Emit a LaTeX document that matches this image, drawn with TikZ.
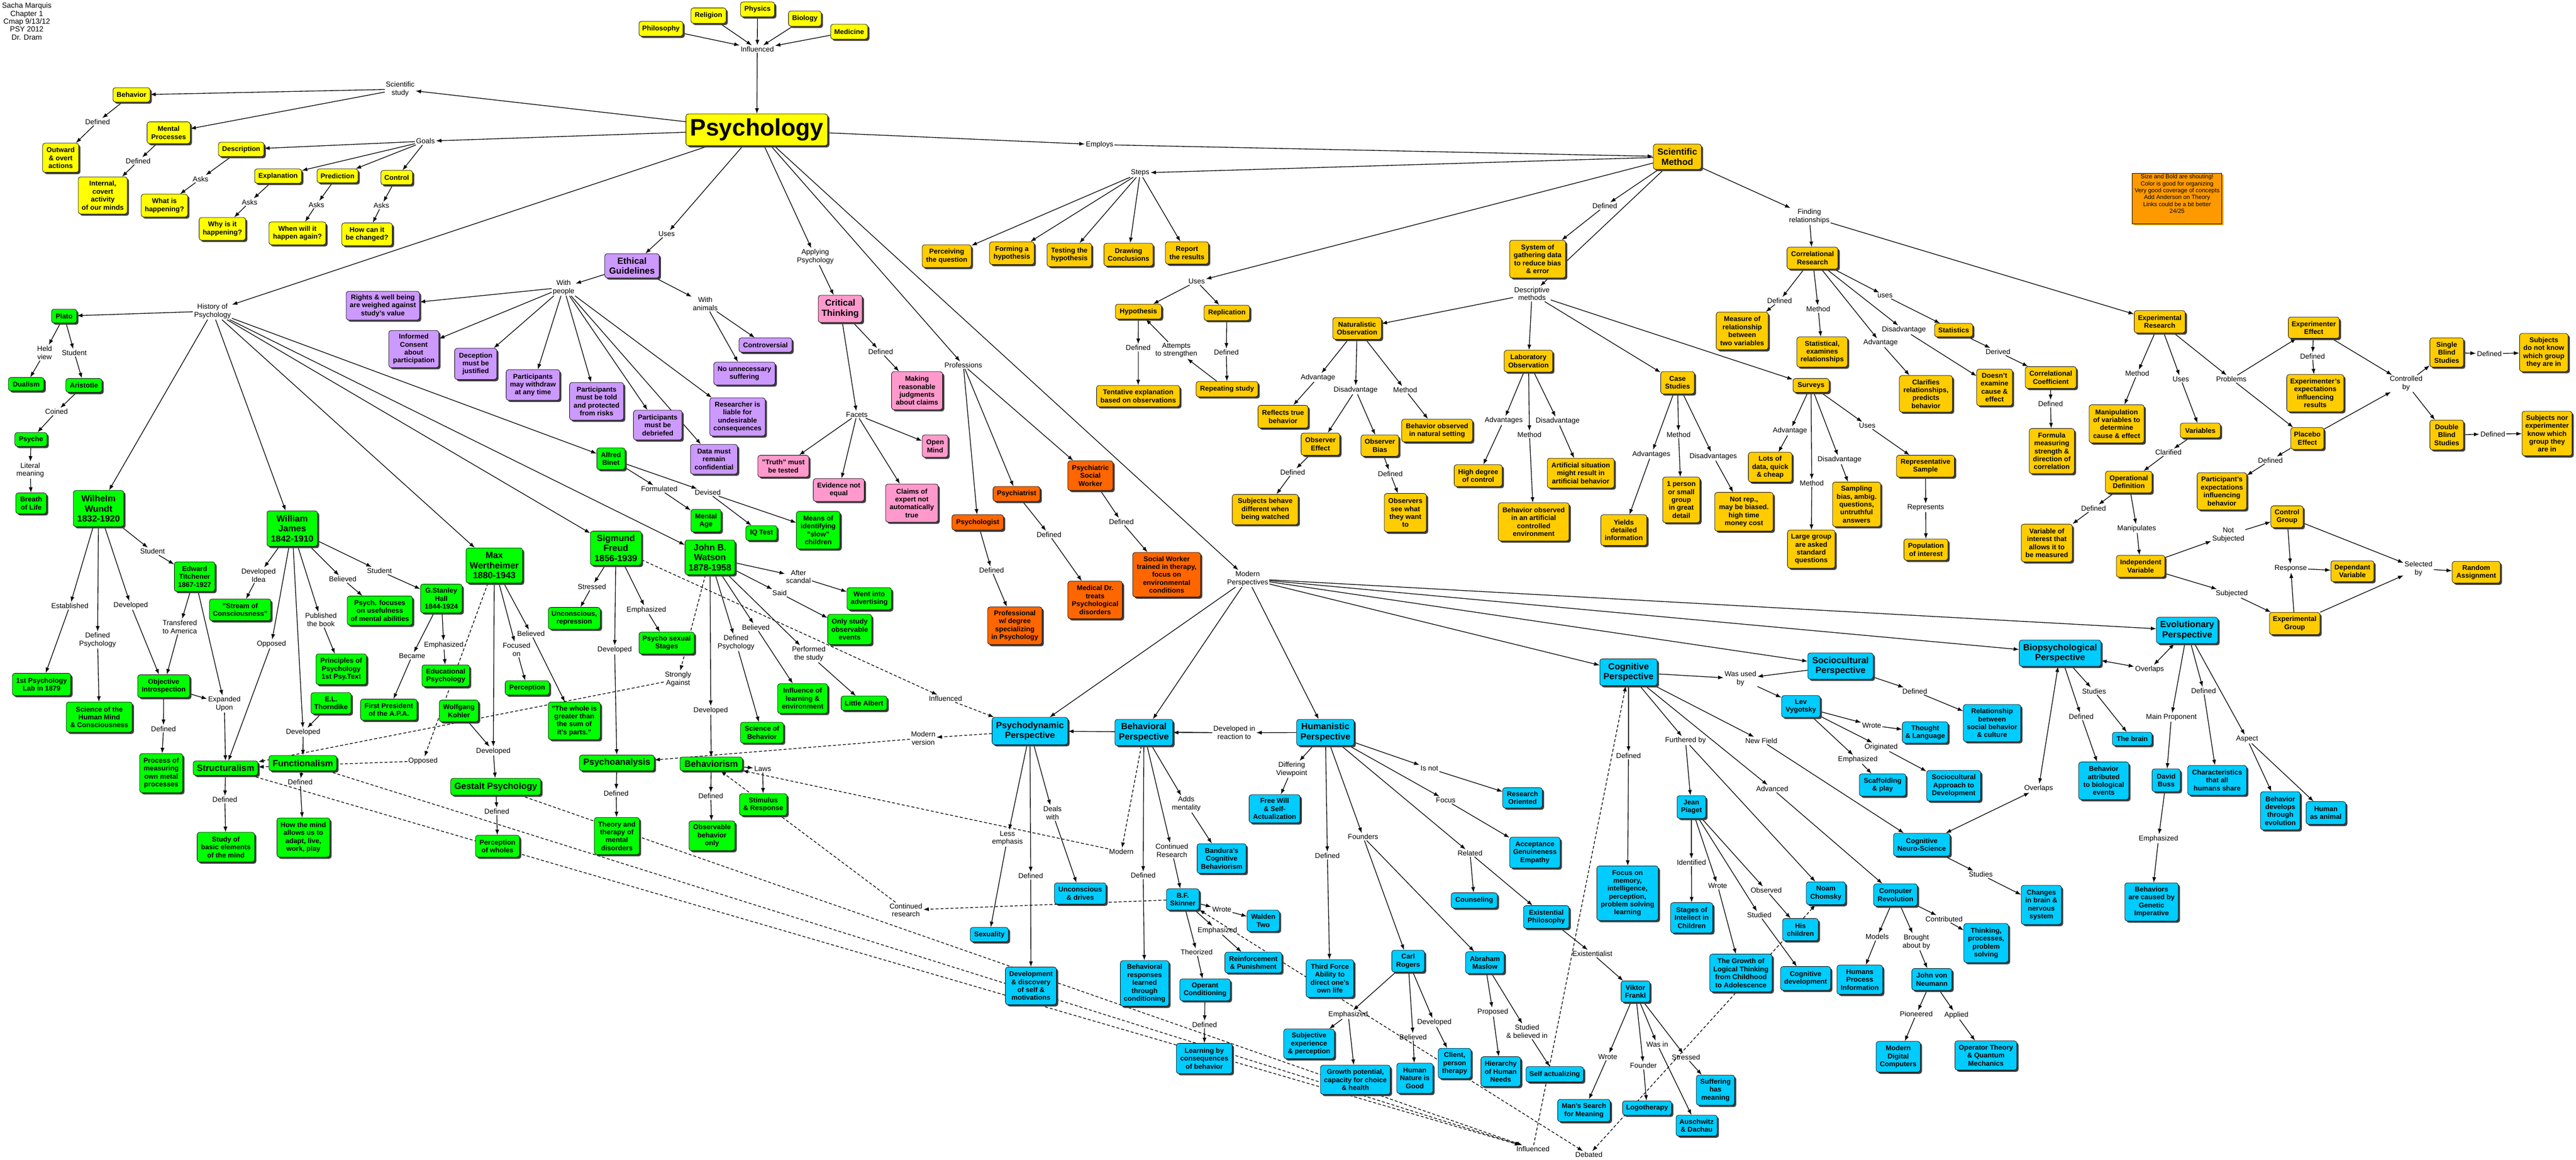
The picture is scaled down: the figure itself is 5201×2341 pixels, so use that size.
\documentclass[tikz,border=0pt]{standalone}
\usepackage{fontspec}
\setmainfont{Liberation Sans}
\usetikzlibrary{arrows.meta,shadows,backgrounds}
\definecolor{cY}{HTML}{FFFF00}
\definecolor{cG}{HTML}{FFCC00}
\definecolor{cGr}{HTML}{00FF00}
\definecolor{cPu}{HTML}{CC99FF}
\definecolor{cPk}{HTML}{FF99CC}
\definecolor{cOr}{HTML}{FF6600}
\definecolor{cBl}{HTML}{00CCFF}
\definecolor{cNote}{HTML}{FF9900}
\tikzset{
  cpt/.style={draw=black, line width=0.8pt, rounded corners=5pt, align=center, inner sep=1pt,
    font=\fontsize{14}{16}\selectfont\bfseries,
    drop shadow={shadow xshift=3.5pt, shadow yshift=-3.5pt, fill=black!75, opacity=1}},
  bigt/.style={font=\fontsize{18}{20.5}\selectfont\bfseries},
  sY/.style={cpt, fill=cY},
  sG/.style={cpt, fill=cG},
  sGr/.style={cpt, fill=cGr},
  sPu/.style={cpt, fill=cPu},
  sPk/.style={cpt, fill=cPk},
  sOr/.style={cpt, fill=cOr},
  sBl/.style={cpt, fill=cBl},
  lbl/.style={align=center, inner sep=2pt, font=\fontsize{14.5}{16.5}\selectfont},
  ar/.style={line width=1.4pt, -{Latex[length=11pt,width=8pt]}},
  dar/.style={ar, dash pattern=on 6pt off 4pt},
  bar/.style={line width=1.4pt, {Latex[length=11pt,width=8pt]}-{Latex[length=11pt,width=8pt]}},
  dbar/.style={bar, dash pattern=on 6pt off 4pt},
}
\newcommand\cn[7]{\node[#6, minimum width={#4-#2}, minimum height={#5-#3}] (#1) at ({(#2+#4)/2},{(#3+#5)/2}) {#7};}
\newcommand\lb[4]{\node[lbl] (#1) at (#2,#3) {#4};}
\begin{document}
\begin{tikzpicture}[x=1pt,y=-1pt]
\useasboundingbox (0,0) rectangle (5201,2341);
% header and note
\node[align=center, inner sep=0pt, font=\fontsize{15}{16}\selectfont] (hdr) at (54,43) {Sacha Marquis\\Chapter 1\\Cmap 9/13/12\\PSY 2012\\Dr. Dram};
\node[draw=black, line width=0.6pt, fill=cNote, minimum width=181, minimum height=102, inner sep=0pt,
  drop shadow={shadow xshift=3pt, shadow yshift=-3pt, fill=cNote!80!yellow, opacity=1}] (cmtbox) at (4395.5,401) {};
\node[align=center, anchor=north, inner sep=0pt, font=\fontsize{12}{13.8}\selectfont] (cmttxt) at (4395.5,352) {Size and Bold are shouting!\\Color is good for organizing\\Very good coverage of concepts\\Add Anderson on Theory\\Links could be a bit better\\24/25};
% ---------- yellow ----------
\cn{philo}{1290}{43}{1379}{73}{sY}{Philosophy}
\cn{religion}{1395}{16}{1466}{47}{sY}{Religion}
\cn{physics}{1495}{4}{1564}{34}{sY}{Physics}
\cn{biology}{1592}{22}{1658}{53}{sY}{Biology}
\cn{medicine}{1677}{49}{1752}{79}{sY}{Medicine}
\lb{infl}{1529}{99}{Influenced}
\cn{psych}{1385}{230}{1671}{294}{sY,font=\fontsize{48}{50}\selectfont\bfseries}{Psychology}
\lb{scistudy}{808}{180}{Scientific\\study}
\cn{behavior}{228}{177}{303}{206}{sY}{Behavior}
\cn{mental}{297}{246}{384}{290}{sY}{Mental\\Processes}
\lb{defB}{197}{246}{Defined}
\cn{outward}{86}{289}{159}{348}{sY}{Outward\\\& overt\\actions}
\lb{defM}{279}{325}{Defined}
\cn{internal}{158}{357}{257}{432}{sY}{Internal,\\covert\\activity\\of our minds}
\lb{goals}{859}{285}{Goals}
\cn{desc}{441}{287}{533}{316}{sY}{Description}
\cn{expl}{514}{341}{609}{370}{sY}{Explanation}
\cn{pred}{640}{341}{723}{369}{sY}{Prediction}
\cn{ctrlY}{769}{344}{833}{373}{sY}{Control}
\lb{asksD}{405}{361}{Asks}
\lb{asksE}{504}{408}{Asks}
\lb{asksP}{639}{413}{Asks}
\lb{asksC}{770}{415}{Asks}
\cn{whatq}{285}{392}{379}{438}{sY}{What is\\happening?}
\cn{whyq}{402}{439}{496}{485}{sY}{Why is it\\happening?}
\cn{whenq}{543}{448}{658}{494}{sY}{When will it\\happen again?}
\cn{howq}{690}{450}{792}{496}{sY}{How can it\\be changed?}
% ---------- gold: scientific method ----------
\lb{employs}{2220}{292}{Employs}
\cn{sm}{3338}{291}{3435}{342}{sG,bigt}{Scientific\\Method}
\lb{steps}{2302}{349}{Steps}
\cn{perc}{1862}{494}{1961}{540}{sG}{Perceiving\\the question}
\cn{formh}{1998}{488}{2088}{534}{sG}{Forming a\\hypothesis}
\cn{testh}{2114}{491}{2204}{538}{sG}{Testing the\\hypothesis}
\cn{drawc}{2229}{491}{2328}{537}{sG}{Drawing\\Conclusions}
\cn{report}{2353}{488}{2440}{533}{sG}{Report\\the results}
\lb{usesSM}{2416}{568}{Uses}
\cn{hyp}{2252}{614}{2345}{644}{sG}{Hypothesis}
\cn{rep}{2431}{616}{2523}{647}{sG}{Replication}
\lb{defH}{2298}{702}{Defined}
\lb{attempts}{2375}{707}{Attempts\\to strengthen}
\lb{defR}{2476}{711}{Defined}
\cn{tent}{2214}{778}{2382}{821}{sG}{Tentative explanation\\based on observations}
\cn{repst}{2415}{770}{2540}{801}{sG}{Repeating study}
\lb{defSM}{3240}{416}{Defined}
\cn{system}{3048}{485}{3161}{561}{sG}{System of\\gathering data\\to reduce bias\\\& error}
\lb{descm}{3093}{593}{Descriptive\\methods}
\cn{nat}{2691}{641}{2789}{685}{sG}{Naturalistic\\Observation}
\cn{labobs}{3037}{707}{3135}{751}{sG}{Laboratory\\Observation}
\cn{casest}{3353}{750}{3421}{795}{sG}{Case\\Studies}
\cn{surv}{3620}{764}{3693}{792}{sG}{Surveys}
\lb{advN}{2661}{762}{Advantage}
\lb{disN}{2737}{787}{Disadvantage}
\lb{metN}{2837}{787}{Method}
\cn{reflects}{2540}{818}{2641}{864}{sG}{Reflects true\\behavior}
\cn{obsE}{2627}{874}{2705}{919}{sG}{Observer\\Effect}
\cn{obsB}{2748}{878}{2824}{921}{sG}{Observer\\Bias}
\cn{natset}{2830}{846}{2973}{892}{sG}{Behavior observed\\in natural setting}
\lb{defOE}{2610}{953}{Defined}
\cn{subjb}{2488}{998}{2621}{1059}{sG}{Subjects behave\\different when\\being watched}
\lb{defOB}{2807}{956}{Defined}
\cn{obssee}{2795}{996}{2880}{1074}{sG}{Observers\\see what\\they want\\to}
\lb{advL}{3036}{849}{Advantages}
\lb{disL}{3145}{850}{Disadvantage}
\lb{metL}{3088}{877}{Method}
\cn{highdeg}{2936}{938}{3033}{982}{sG}{High degree\\of control}
\cn{artif}{3124}{925}{3259}{985}{sG}{Artificial situation\\might result in\\artificial behavior}
\cn{artenv}{3025}{1015}{3168}{1092}{sG}{Behavior observed\\in an artificial\\controlled\\environment}
\lb{advC}{3334}{917}{Advantages}
\lb{metC}{3389}{877}{Method}
\lb{disC}{3459}{921}{Disadvantages}
\cn{oneperson}{3357}{963}{3432}{1055}{sG}{1 person\\or small\\group\\in great\\detail}
\cn{yields}{3232}{1039}{3325}{1101}{sG}{Yields\\detailed\\information}
\cn{notrep}{3462}{994}{3580}{1072}{sG}{Not rep.,\\may be biased.\\high time\\money cost}
\lb{advS}{3614}{870}{Advantage}
\lb{usesS}{3770}{859}{Uses}
\lb{disS}{3714}{928}{Disadvantage}
\lb{metS}{3658}{975}{Method}
\cn{lots}{3530}{913}{3618}{973}{sG}{Lots of\\data, quick\\\& cheap}
\cn{sampling}{3700}{973}{3797}{1063}{sG}{Sampling\\bias, ambig.\\questions,\\untruthful\\answers}
\cn{large}{3609}{1070}{3705}{1147}{sG}{Large group\\are asked\\standard\\questions}
\cn{repsamp}{3829}{919}{3946}{963}{sG}{Representative\\Sample}
\lb{represents}{3888}{1025}{Represents}
\cn{pop}{3844}{1088}{3933}{1131}{sG}{Population\\of interest}
\lb{findrel}{3653}{437}{Finding\\relationships}
\cn{corr}{3608}{499}{3711}{543}{sG}{Correlational\\Research}
\lb{usesCorr}{3806}{597}{uses}
\lb{defCorr}{3593}{607}{Defined}
\lb{metCorr}{3671}{624}{Method}
\cn{measure}{3465}{630}{3570}{706}{sG}{Measure of\\relationship\\between\\two variables}
\cn{statist}{3628}{680}{3730}{741}{sG}{Statistical,\\examines\\relationships}
\lb{advCorr}{3797}{692}{Advantage}
\lb{disCorr}{3844}{666}{Disadvantage}
\cn{clarif}{3835}{758}{3942}{832}{sG}{Clarifies\\relationships,\\predicts\\behavior}
\cn{stats}{3906}{653}{3983}{680}{sG}{Statistics}
\lb{derived}{4034}{710}{Derived}
\cn{doesnt}{3991}{745}{4063}{819}{sG}{Doesn't\\examine\\cause \&\\effect}
\cn{corrco}{4089}{740}{4192}{784}{sG}{Correlational\\Coefficient}
\lb{defCC}{4140}{815}{Defined}
\cn{formula}{4097}{865}{4188}{956}{sG}{Formula\\measuring\\strength \&\\direction of\\correlation}
\cn{exper}{4309}{627}{4412}{672}{sG}{Experimental\\Research}
\lb{metE}{4315}{754}{Method}
\lb{usesE}{4403}{765}{Uses}
\lb{problems}{4505}{765}{Problems}
\cn{manip}{4218}{817}{4329}{894}{sG}{Manipulation\\of variables to\\determine\\cause \& effect}
\cn{vars}{4402}{854}{4483}{884}{sG}{Variables}
\lb{clarified}{4378}{913}{Clarified}
\cn{opdef}{4251}{951}{4345}{995}{sG}{Operational\\Definition}
\lb{defOD}{4227}{1026}{Defined}
\lb{manipulates}{4314}{1067}{Manipulates}
\cn{varint}{4081}{1058}{4184}{1134}{sG}{Variable of\\interest that\\allows it to\\be measured}
\cn{indep}{4273}{1121}{4371}{1165}{sG}{Independent\\Variable}
\lb{notsub}{4499}{1080}{Not\\Subjected}
\lb{subj}{4506}{1198}{Subjected}
\cn{ctrlgrp}{4585}{1021}{4650}{1065}{sG}{Control\\Group}
\lb{response}{4625}{1147}{Response}
\cn{depend}{4706}{1132}{4793}{1174}{sG}{Dependant\\Variable}
\cn{expgrp}{4582}{1236}{4684}{1281}{sG}{Experimental\\Group}
\lb{selected}{4883}{1148}{Selected\\by}
\cn{random}{4951}{1133}{5048}{1177}{sG}{Random\\Assignment}
\cn{expeff}{4620}{640}{4723}{683}{sG}{Experimenter\\Effect}
\lb{defEE}{4669}{719}{Defined}
\cn{expexp}{4617}{756}{4732}{831}{sG}{Experimenter's\\expectations\\influencing\\results}
\cn{placebo}{4625}{863}{4692}{907}{sG}{Placebo\\Effect}
\lb{defPE}{4584}{929}{Defined}
\cn{partexp}{4436}{954}{4536}{1029}{sG}{Participant's\\expectations\\influencing\\behavior}
\lb{contby}{4858}{774}{Controlled\\by}
\cn{single}{4906}{682}{4974}{741}{sG}{Single\\Blind\\Studies}
\cn{double}{4906}{848}{4974}{908}{sG}{Double\\Blind\\Studies}
\lb{defSB}{5026}{714}{Defined}
\lb{defDB}{5033}{876}{Defined}
\cn{subjnot}{5087}{673}{5185}{750}{sG}{Subjects\\do not know\\which group\\they are in}
\cn{subjnor}{5092}{830}{5193}{920}{sG}{Subjects nor\\experimenter\\know which\\group they\\are in}
% ---------- purple: ethics ----------
\lb{usesEth}{1346}{472}{Uses}
\cn{ethical}{1221}{512}{1331}{561}{sPu,bigt}{Ethical\\Guidelines}
\lb{withp}{1138}{580}{With\\people}
\lb{witha}{1424}{613}{With\\animals}
\cn{rights}{699}{588}{847}{646}{sPu}{Rights \& well being\\are weighed against\\study's value}
\cn{informed}{785}{667}{886}{742}{sPu}{Informed\\Consent\\about\\participation}
\cn{decep}{918}{703}{1003}{766}{sPu}{Deception\\must be\\justified}
\cn{withdraw}{1022}{746}{1130}{808}{sPu}{Participants\\may withdraw\\at any time}
\cn{told}{1150}{772}{1259}{848}{sPu}{Participants\\must be told\\and protected\\from risks}
\cn{debrief}{1279}{828}{1377}{888}{sPu}{Participants\\must be\\debriefed}
\cn{liable}{1433}{803}{1545}{880}{sPu}{Researcher is\\liable for\\undesirable\\consequences}
\cn{datac}{1394}{897}{1489}{957}{sPu}{Data must\\remain\\confidential}
\cn{contro}{1492}{682}{1599}{711}{sPu}{Controversial}
\cn{nounn}{1441}{731}{1565}{777}{sPu}{No unnecessary\\suffering}
% ---------- pink: critical thinking ----------
\lb{applying}{1646}{518}{Applying\\Psychology}
\cn{crit}{1652}{596}{1741}{651}{sPk,bigt}{Critical\\Thinking}
\lb{defCT}{1778}{710}{Defined}
\cn{making}{1800}{750}{1903}{827}{sPk}{Making\\reasonable\\judgments\\about claims}
\lb{facets}{1730}{837}{Facets}
\cn{openm}{1862}{878}{1914}{923}{sPk}{Open\\Mind}
\cn{truth}{1530}{919}{1633}{963}{sPk}{"Truth" must\\be tested}
\cn{evid}{1642}{966}{1745}{1012}{sPk}{Evidence not\\equal}
\cn{claims}{1788}{977}{1894}{1054}{sPk}{Claims of\\expert not\\automatically\\true}
% ---------- orange: professions ----------
\lb{prof}{1945}{737}{Professions}
\cn{psw}{2156}{930}{2247}{990}{sOr}{Psychiatric\\Social\\Worker}
\cn{psychiatrist}{2005}{982}{2100}{1012}{sOr}{Psychiatrist}
\cn{psychologist}{1922}{1039}{2026}{1070}{sOr}{Psychologist}
\lb{defPsy}{2118}{1079}{Defined}
\lb{defPSW}{2264}{1053}{Defined}
\lb{defPsl}{2002}{1151}{Defined}
\cn{swt}{2287}{1115}{2424}{1205}{sOr}{Social Worker\\trained in therapy,\\focus on\\environmental\\conditions}
\cn{meddr}{2156}{1173}{2266}{1249}{sOr}{Medical Dr.\\treats\\Psychological\\disorders}
\cn{profdeg}{1994}{1225}{2104}{1301}{sOr}{Professional\\w/ degree\\specializing\\in Psychology}
% ---------- green: history ----------
\lb{history}{429}{628}{History of\\Psychology}
\cn{plato}{104}{624}{155}{652}{sGr}{Plato}
\lb{heldview}{90}{712}{Held\\view}
\lb{studP}{150}{712}{Student}
\cn{dualism}{17}{762}{89}{789}{sGr}{Dualism}
\cn{aristotle}{133}{764}{206}{792}{sGr}{Aristotle}
\lb{coined}{114}{831}{Coined}
\cn{psyche}{30}{873}{95}{901}{sGr}{Psyche}
\lb{literal}{61}{949}{Literal\\meaning}
\cn{breath}{32}{995}{94}{1037}{sGr}{Breath\\of Life}
\cn{wundt}{148}{990}{250}{1063}{sGr,bigt}{Wilhelm\\Wundt\\1832-1920}
\cn{james}{539}{1031}{641}{1103}{sGr,bigt}{William\\James\\1842-1910}
\cn{wert}{941}{1106}{1055}{1177}{sGr,bigt}{Max\\Wertheimer\\1880-1943}
\cn{freud}{1192}{1072}{1295}{1141}{sGr,bigt}{Sigmund\\Freud\\1856-1939}
\cn{binet}{1205}{904}{1262}{948}{sGr}{Alfred\\Binet}
\cn{watson}{1383}{1090}{1484}{1160}{sGr,bigt}{John B.\\Watson\\1878-1958}
\lb{studW}{308}{1113}{Student}
\cn{titch}{352}{1134}{434}{1194}{sGr}{Edward\\Titchener\\1867-1927}
\lb{estab}{141}{1223}{Established}
\lb{devW}{264}{1222}{Developed}
\lb{defpsyW}{197}{1292}{Defined\\Psychology}
\cn{lab1879}{25}{1359}{143}{1404}{sGr}{1st Psychology\\Lab in 1879}
\cn{science}{134}{1417}{267}{1478}{sGr}{Science of the\\Human Mind\\\& Consciousness}
\lb{transf}{363}{1265}{Transfered\\to America}
\cn{objint}{278}{1362}{383}{1408}{sGr}{Objective\\Introspection}
\lb{expanded}{453}{1421}{Expanded\\Upon}
\lb{defOI}{330}{1471}{Defined}
\cn{process}{282}{1521}{369}{1600}{sGr}{Process of\\measuring\\own metal\\processes}
\cn{struct}{390}{1536}{521}{1565}{sGr,bigt}{Structuralism}
\cn{func}{543}{1525}{680}{1556}{sGr,bigt}{Functionalism}
\lb{defS}{454}{1614}{Defined}
\lb{defF}{606}{1579}{Defined}
\cn{studyb}{398}{1680}{514}{1740}{sGr}{Study of\\basic elements\\of the mind}
\cn{howmind}{559}{1651}{666}{1730}{sGr}{How the mind\\allows us to\\adapt, live,\\work, play}
\lb{devidea}{522}{1161}{Developed\\Idea}
\cn{stream}{423}{1209}{547}{1253}{sGr}{"Stream of\\Consciousness"}
\lb{believedJ}{692}{1169}{Believed}
\lb{studJ}{766}{1152}{Student}
\cn{usef}{701}{1203}{833}{1262}{sGr}{Psych. focuses\\on usefulness\\of mental abilities}
\cn{hall}{849}{1179}{933}{1237}{sGr}{G.Stanley\\Hall\\1844-1924}
\lb{published}{648}{1251}{Published\\the book}
\lb{opposedJ}{548}{1300}{Opposed}
\cn{principles}{638}{1320}{740}{1382}{sGr}{Principles of\\Psychology\\1st Psy.Text}
\cn{thorndike}{628}{1398}{709}{1441}{sGr}{E.L.\\Thorndike}
\lb{devJ}{612}{1478}{Developed}
\lb{became}{832}{1324}{Became}
\lb{emphH}{896}{1302}{Emphasized}
\cn{educ}{852}{1342}{948}{1386}{sGr}{Educational\\Psychology}
\cn{firstpres}{728}{1411}{842}{1454}{sGr}{First President\\of the A.P.A.}
\cn{kohler}{887}{1413}{966}{1457}{sGr}{Wolfgang\\Kohler}
\lb{believedW}{1072}{1279}{Believed}
\lb{focused}{1043}{1311}{Focused\\on}
\cn{perception}{1020}{1374}{1109}{1403}{sGr}{Perception}
\cn{whole}{1107}{1417}{1212}{1493}{sGr}{"The whole is\\greater than\\the sum of\\it's parts."}
\lb{opposedW}{854}{1536}{Opposed}
\lb{devWert}{996}{1516}{Developed}
\cn{gestalt}{910}{1571}{1092}{1605}{sGr,bigt}{Gestalt Psychology}
\lb{defG}{1003}{1638}{Defined}
\cn{percw}{960}{1686}{1049}{1730}{sGr}{Perception\\of wholes}
\lb{stressedF}{1195}{1184}{Stressed}
\cn{uncon}{1107}{1226}{1212}{1270}{sGr}{Unconscious,\\repression}
\lb{devF}{1241}{1312}{Developed}
\lb{emphF}{1305}{1231}{Emphasized}
\cn{psychosex}{1290}{1276}{1402}{1320}{sGr}{Psycho sexual\\Stages}
\cn{psychoan}{1170}{1524}{1321}{1556}{sGr,bigt}{Psychoanalysis}
\lb{defPA}{1244}{1601}{Defined}
\cn{theory}{1200}{1650}{1291}{1725}{sGr}{Theory and\\therapy of\\mental\\disorders}
\lb{formulated}{1331}{987}{Formulated}
\lb{devised}{1429}{994}{Devised}
\cn{mentalage}{1395}{1028}{1456}{1074}{sGr}{Mental\\Age}
\cn{iq}{1506}{1061}{1569}{1091}{sGr}{IQ Test}
\cn{means}{1608}{1032}{1696}{1108}{sGr}{Means of\\identifying\\"slow"\\children}
\lb{after}{1612}{1164}{After\\scandal}
\lb{said}{1574}{1197}{Said}
\cn{advert}{1710}{1186}{1800}{1231}{sGr}{Went into\\advertising}
\cn{onlyst}{1671}{1240}{1760}{1301}{sGr}{Only study\\observable\\events}
\lb{believedWa}{1526}{1266}{Believed}
\lb{defpsyWa}{1486}{1297}{Defined\\Psychology}
\lb{performed}{1633}{1320}{Performed\\the study}
\cn{influence}{1570}{1380}{1671}{1440}{sGr}{Influence of\\learning \&\\environment}
\cn{albert}{1698}{1405}{1791}{1434}{sGr}{Little Albert}
\lb{strongly}{1369}{1371}{Strongly\\Against}
\lb{devWa}{1435}{1434}{Developed}
\cn{sciB}{1495}{1458}{1582}{1500}{sGr}{Science of\\Behavior}
\cn{behaviorism}{1373}{1528}{1499}{1556}{sGr,bigt}{Behaviorism}
\lb{laws}{1540}{1552}{Laws}
\lb{defBeh}{1435}{1607}{Defined}
\cn{stimresp}{1493}{1602}{1589}{1646}{sGr}{Stimulus\\\& Response}
\cn{obsonly}{1391}{1657}{1484}{1717}{sGr}{Observable\\behavior\\only}
% ---------- blue: perspectives ----------
\lb{modpers}{2519}{1168}{Modern\\Perspectives}
\lb{inflP}{1909}{1410}{Influenced}
\cn{psychodyn}{2003}{1448}{2156}{1503}{sBl,bigt}{Psychodynamic\\Perspective}
\cn{behavioral}{2251}{1452}{2368}{1505}{sBl,bigt}{Behavioral\\Perspective}
\lb{devreact}{2492}{1479}{Developed in\\reaction to}
\lb{modver}{1864}{1490}{Modern\\version}
\cn{humanistic}{2618}{1452}{2734}{1505}{sBl,bigt}{Humanistic\\Perspective}
\cn{cognitive}{3230}{1330}{3346}{1384}{sBl,bigt}{Cognitive\\Perspective}
\cn{socio}{3650}{1318}{3782}{1371}{sBl,bigt}{Sociocultural\\Perspective}
\cn{biopsy}{4077}{1292}{4242}{1345}{sBl,bigt}{Biopsychological\\Perspective}
\cn{evol}{4354}{1246}{4478}{1299}{sBl,bigt}{Evolutionary\\Perspective}
\lb{lessemph}{2034}{1692}{Less\\emphasis}
\lb{deals}{2125}{1641}{Deals\\with}
\lb{defPD}{2081}{1768}{Defined}
\cn{uncdr}{2129}{1782}{2233}{1825}{sBl}{Unconscious\\\& drives}
\cn{sexuality}{1959}{1872}{2036}{1901}{sBl}{Sexuality}
\cn{devdisc}{2030}{1952}{2133}{2028}{sBl}{Development\\\& discovery\\of self \&\\motivations}
\lb{contres}{1829}{1837}{Continued\\research}
\lb{modern}{2264}{1719}{Modern}
\lb{contRes}{2366}{1717}{Continued\\Research}
\lb{adds}{2395}{1623}{Adds\\mentality}
\lb{defBP}{2308}{1767}{Defined}
\cn{bandura}{2417}{1703}{2516}{1763}{sBl}{Bandura's\\Cognitive\\Behaviorism}
\cn{skinner}{2355}{1794}{2421}{1837}{sBl}{B.F.\\Skinner}
\lb{wroteS}{2467}{1836}{Wrote}
\cn{walden}{2518}{1837}{2583}{1880}{sBl}{Walden\\Two}
\lb{emphS}{2458}{1878}{Emphasized}
\lb{theorized}{2416}{1922}{Theorized}
\cn{reinf}{2473}{1922}{2588}{1964}{sBl}{Reinforcement\\\& Punishment}
\cn{behresp}{2262}{1939}{2360}{2031}{sBl}{Behavioral\\responses\\learned\\through\\conditioning}
\cn{operant}{2382}{1976}{2484}{2020}{sBl}{Operant\\Conditioning}
\lb{defOC}{2432}{2068}{Defined}
\cn{learning}{2375}{2106}{2488}{2167}{sBl}{Learning by\\consequences\\of behavior}
\lb{differing}{2608}{1553}{Differing\\Viewpoint}
\cn{freewill}{2522}{1604}{2625}{1661}{sBl}{Free Will\\\& Self-\\Actualization}
\lb{isnot}{2886}{1551}{Is not}
\cn{research}{3034}{1590}{3114}{1631}{sBl}{Research\\Oriented}
\lb{focusH}{2919}{1615}{Focus}
\cn{accept}{3048}{1690}{3150}{1752}{sBl}{Acceptance\\Genuineness\\Empathy}
\lb{founders}{2752}{1689}{Founders}
\lb{related}{2968}{1722}{Related}
\lb{defHum}{2680}{1727}{Defined}
\cn{counsel}{2930}{1802}{3023}{1833}{sBl}{Counseling}
\cn{existph}{3076}{1828}{3168}{1874}{sBl}{Existential\\Philosophy}
\lb{existist}{3215}{1925}{Existentialist}
\cn{third}{2637}{1937}{2733}{2013}{sBl}{Third Force\\Ability to\\direct one's\\own life}
\cn{rogers}{2810}{1918}{2876}{1962}{sBl}{Carl\\Rogers}
\cn{maslow}{2959}{1921}{3037}{1965}{sBl}{Abraham\\Maslow}
\lb{emphR}{2722}{2048}{Emphasized}
\lb{believedR}{2853}{2093}{Believed}
\lb{devR}{2896}{2064}{Developed}
\cn{subjexp}{2592}{2077}{2694}{2137}{sBl}{Subjective\\experience\\\& perception}
\cn{growth}{2666}{2150}{2807}{2209}{sBl}{Growth potential,\\capacity for choice\\\& health}
\cn{humangood}{2820}{2146}{2893}{2207}{sBl}{Human\\Nature is\\Good}
\cn{client}{2904}{2116}{2970}{2177}{sBl}{Client,\\person\\therapy}
\lb{proposed}{3014}{2043}{Proposed}
\lb{studbel}{3083}{2082}{Studied\\\& believed in}
\cn{hierarchy}{2990}{2133}{3070}{2193}{sBl}{Hierarchy\\of Human\\Needs}
\cn{selfact}{3081}{2153}{3197}{2184}{sBl}{Self actualizing}
\lb{defCog}{3288}{1525}{Defined}
\cn{focusmem}{3224}{1748}{3348}{1858}{sBl}{Focus on\\memory,\\intelligence,\\perception,\\problem solving\\learning}
\lb{furthered}{3403}{1495}{Furthered by}
\lb{newfield}{3556}{1495}{New Field}
\lb{advanced}{3578}{1592}{Advanced}
\cn{piaget}{3386}{1606}{3444}{1652}{sBl}{Jean\\Piaget}
\lb{identified}{3415}{1741}{Identified}
\lb{wroteP}{3468}{1788}{Wrote}
\lb{observed}{3566}{1797}{Observed}
\lb{studied}{3552}{1847}{Studied}
\cn{stages}{3373}{1822}{3458}{1883}{sBl}{Stages of\\Intellect in\\Children}
\cn{growthlog}{3452}{1926}{3578}{2002}{sBl}{The Growth of\\Logical Thinking\\from Childhood\\to Adolescence}
\cn{hischild}{3599}{1854}{3671}{1899}{sBl}{His\\children}
\cn{chomsky}{3647}{1780}{3726}{1826}{sBl}{Noam\\Chomsky}
\cn{cogdev}{3595}{1951}{3696}{1999}{sBl}{Cognitive\\development}
\cn{comprev}{3783}{1784}{3871}{1829}{sBl}{Computer\\Revolution}
\lb{models}{3790}{1891}{Models}
\lb{brought}{3869}{1901}{Brought\\about by}
\lb{contrib}{3925}{1855}{Contributed}
\cn{humproc}{3709}{1948}{3801}{2007}{sBl}{Humans\\Process\\Information}
\cn{vonneu}{3860}{1955}{3941}{1999}{sBl}{John von\\Neumann}
\lb{pioneered}{3869}{2047}{Pioneered}
\cn{moddig}{3788}{2102}{3877}{2164}{sBl}{Modern\\Digital\\Computers}
\lb{applied}{3950}{2049}{Applied}
\cn{operator}{3947}{2101}{4072}{2160}{sBl}{Operator Theory\\\& Quantum\\Mechanics}
\cn{frankl}{3273}{1980}{3331}{2023}{sBl}{Viktor\\Frankl}
\lb{wroteF}{3246}{2133}{Wrote}
\lb{founder}{3318}{2151}{Founder}
\lb{wasin}{3346}{2108}{Was in}
\lb{stressedFr}{3404}{2134}{Stressed}
\cn{mans}{3145}{2219}{3251}{2264}{sBl}{Man's Search\\for Meaning}
\cn{logo}{3276}{2222}{3375}{2251}{sBl}{Logotherapy}
\cn{suffering}{3425}{2170}{3502}{2231}{sBl}{Suffering\\has\\meaning}
\cn{ausch}{3384}{2251}{3467}{2293}{sBl}{Auschwitz\\\& Dachau}
\lb{inflB}{3095}{2319}{Influenced}
\lb{debated}{3208}{2331}{Debated}
\lb{wasused}{3514}{1370}{Was used\\by}
\cn{vygotsky}{3597}{1404}{3675}{1448}{sBl}{Lev\\Vygotsky}
\lb{defSoc}{3866}{1395}{Defined}
\cn{relat}{3964}{1422}{4080}{1497}{sBl}{Relationship\\between\\social behavior\\\& culture}
\lb{wroteV}{3779}{1464}{Wrote}
\cn{thought}{3841}{1457}{3933}{1500}{sBl}{Thought\\\& Language}
\lb{originated}{3798}{1508}{Originated}
\lb{emphV}{3751}{1533}{Emphasized}
\cn{scaff}{3754}{1562}{3848}{1607}{sBl}{Scaffolding\\\& play}
\cn{sociapp}{3890}{1555}{3999}{1617}{sBl}{Sociocultural\\Approach to\\Development}
\cn{cogneuro}{3823}{1682}{3937}{1728}{sBl}{Cognitive\\Neuro-Science}
\lb{overlapsB}{4116}{1591}{Overlaps}
\lb{studiesCN}{3999}{1765}{Studies}
\cn{changes}{4081}{1787}{4162}{1866}{sBl}{Changes\\in brain \&\\nervous\\system}
\cn{thinking}{3965}{1864}{4055}{1943}{sBl}{Thinking,\\processes,\\problem\\solving}
\lb{overlapsA}{4340}{1351}{Overlaps}
\lb{studiesB}{4228}{1395}{Studies}
\lb{defBio}{4202}{1446}{Defined}
\lb{mainprop}{4384}{1448}{Main Proponent}
\lb{defEvo}{4449}{1394}{Defined}
\lb{aspect}{4537}{1492}{Aspect}
\cn{brain}{4265}{1478}{4345}{1505}{sBl}{The brain}
\cn{attrib}{4197}{1538}{4298}{1614}{sBl}{Behavior\\attributed\\to biological\\events}
\cn{buss}{4345}{1552}{4402}{1598}{sBl}{David\\Buss}
\cn{charact}{4417}{1545}{4536}{1605}{sBl}{Characteristics\\that all\\humans share}
\cn{behdev}{4564}{1598}{4644}{1675}{sBl}{Behavior\\develops\\through\\evolution}
\cn{humanimal}{4656}{1618}{4736}{1664}{sBl}{Human\\as animal}
\lb{emphB}{4358}{1693}{Emphasized}
\cn{genetic}{4290}{1782}{4398}{1859}{sBl}{Behaviors\\are caused by\\Genetic\\Imperative}
% ================= connectors =================
\begin{scope}[on background layer]
\fill[white] (0,0) rectangle (5201,2341);
\foreach \a/\b in {philo/infl, religion/infl, physics/infl, biology/infl, medicine/infl, infl/psych,
  psych/scistudy, scistudy/behavior, scistudy/mental, behavior/defB, defB/outward, mental/defM, defM/internal,
  psych/goals, goals/desc, goals/expl, goals/pred, goals/ctrlY, desc/asksD, asksD/whatq, expl/asksE, asksE/whyq,
  pred/asksP, asksP/whenq, ctrlY/asksC, asksC/howq}
  \draw[ar] (\a) -- (\b);
\foreach \a/\b in {psych/employs, employs/sm, sm/steps, steps/perc, steps/formh, steps/testh, steps/drawc, steps/report,
  sm/usesSM, usesSM/hyp, usesSM/rep, hyp/defH, defH/tent, rep/defR, defR/repst, repst/attempts, attempts/hyp,
  sm/defSM, defSM/system, sm/descm, descm/nat, descm/labobs, descm/casest, descm/surv,
  nat/advN, advN/reflects, nat/disN, disN/obsE, disN/obsB, nat/metN, metN/natset, obsE/defOE, defOE/subjb, obsB/defOB, defOB/obssee,
  labobs/advL, advL/highdeg, labobs/metL, metL/artenv, labobs/disL, disL/artif,
  casest/advC, advC/yields, casest/metC, metC/oneperson, casest/disC, disC/notrep,
  surv/advS, advS/lots, surv/metS, metS/large, surv/disS, disS/sampling, surv/usesS, usesS/repsamp, repsamp/represents, represents/pop}
  \draw[ar] (\a) -- (\b);
\foreach \a/\b in {sm/findrel, findrel/corr, findrel/exper,
  corr/defCorr, defCorr/measure, corr/metCorr, metCorr/statist, corr/advCorr, advCorr/clarif, corr/disCorr, disCorr/doesnt,
  corr/usesCorr, usesCorr/stats, stats/derived, derived/corrco, corrco/defCC, defCC/formula,
  exper/metE, metE/manip, exper/usesE, usesE/vars, vars/clarified, clarified/opdef, opdef/defOD, defOD/varint,
  opdef/manipulates, manipulates/indep, indep/notsub, notsub/ctrlgrp, indep/subj, subj/expgrp,
  ctrlgrp/response, expgrp/response, response/depend, ctrlgrp/selected, expgrp/selected, selected/random,
  exper/problems, problems/expeff, problems/placebo, expeff/defEE, defEE/expexp, placebo/defPE, defPE/partexp,
  expeff/contby, placebo/contby, contby/single, contby/double, single/defSB, defSB/subjnot, double/defDB, defDB/subjnor}
  \draw[ar] (\a) -- (\b);
\foreach \a/\b in {psych/usesEth, usesEth/ethical, ethical/withp, ethical/witha, withp/rights, withp/informed, withp/decep,
  withp/withdraw, withp/told, withp/debrief, withp/liable, withp/datac, witha/contro, witha/nounn,
  psych/applying, applying/crit, crit/defCT, defCT/making, crit/facets, facets/truth, facets/evid, facets/claims, facets/openm,
  psych/prof, prof/psychologist, prof/psychiatrist, prof/psw, psychologist/defPsl, defPsl/profdeg,
  psychiatrist/defPsy, defPsy/meddr, psw/defPSW, defPSW/swt}
  \draw[ar] (\a) -- (\b);
\foreach \a/\b in {psych/history, history/plato, history/wundt, history/james, history/wert, history/freud, history/binet, history/watson,
  plato/heldview, heldview/dualism, plato/studP, studP/aristotle, aristotle/coined, coined/psyche, psyche/literal, literal/breath,
  wundt/studW, studW/titch, wundt/estab, estab/lab1879, wundt/defpsyW, defpsyW/science, wundt/devW, devW/objint,
  titch/transf, transf/objint, titch/expanded, objint/expanded, expanded/struct, objint/defOI, defOI/process, struct/defS, defS/studyb,
  james/devidea, devidea/stream, james/opposedJ, opposedJ/struct, james/devJ, thorndike/devJ, devJ/func, func/defF, defF/howmind,
  james/published, published/principles, james/believedJ, believedJ/usef, james/studJ, studJ/hall,
  hall/became, became/firstpres, hall/emphH, emphH/educ,
  wert/focused, focused/perception, wert/believedW, believedW/whole, wert/devWert, kohler/devWert, devWert/gestalt, gestalt/defG, defG/percw,
  freud/stressedF, stressedF/uncon, freud/devF, devF/psychoan, psychoan/defPA, defPA/theory, freud/emphF, emphF/psychosex,
  binet/formulated, formulated/mentalage, binet/devised, devised/iq, devised/means,
  watson/after, after/advert, watson/said, said/onlyst, watson/believedWa, believedWa/influence, watson/defpsyWa, defpsyWa/sciB,
  watson/performed, performed/albert, watson/devWa, devWa/behaviorism, behaviorism/defBeh, defBeh/obsonly, behaviorism/laws, laws/stimresp}
  \draw[ar] (\a) -- (\b);
\foreach \a/\b in {wert/opposedW, opposedW/struct, freud/inflP, inflP/psychodyn, watson/strongly, strongly/struct,
  psychodyn/modver, modver/psychoan, behavioral/modern, modern/behaviorism, skinner/contres, contres/behaviorism,
  struct/inflB, func/inflB, gestalt/inflB, inflB/cognitive}
  \draw[dar] (\a) -- (\b);
\foreach \a/\b in {skinner/debated, chomsky/debated}
  \draw[dbar] (\a) -- (\b);
\foreach \a/\b in {cogneuro/overlapsB, overlapsB/biopsy, biopsy/overlapsA, overlapsA/evol}
  \draw[bar] (\a) -- (\b);
\foreach \a/\b in {psych/modpers, modpers/psychodyn, modpers/behavioral, modpers/humanistic, modpers/cognitive, modpers/socio, modpers/biopsy, modpers/evol,
  humanistic/devreact, devreact/behavioral, devreact/psychodyn,
  psychodyn/lessemph, lessemph/sexuality, psychodyn/defPD, defPD/devdisc, psychodyn/deals, deals/uncdr,
  behavioral/contRes, contRes/skinner, behavioral/adds, adds/bandura, behavioral/defBP, defBP/behresp,
  skinner/wroteS, wroteS/walden, skinner/emphS, emphS/reinf, skinner/theorized, theorized/operant, operant/defOC, defOC/learning,
  humanistic/differing, differing/freewill, humanistic/isnot, isnot/research, humanistic/focusH, focusH/accept,
  humanistic/founders, founders/rogers, founders/maslow, humanistic/related, related/counsel, related/existph,
  existph/existist, existist/frankl, humanistic/defHum, defHum/third,
  rogers/emphR, emphR/subjexp, emphR/growth, rogers/believedR, believedR/humangood, rogers/devR, devR/client,
  maslow/proposed, proposed/hierarchy, maslow/studbel, studbel/selfact,
  frankl/wroteF, wroteF/mans, frankl/founder, founder/logo, frankl/wasin, wasin/ausch, frankl/stressedFr, stressedFr/suffering}
  \draw[ar] (\a) -- (\b);
\foreach \a/\b in {cognitive/defCog, defCog/focusmem, cognitive/furthered, furthered/piaget, furthered/chomsky,
  cognitive/newfield, newfield/cogneuro, cognitive/advanced, advanced/comprev, cognitive/wasused, socio/wasused, wasused/vygotsky,
  piaget/identified, identified/stages, piaget/wroteP, wroteP/growthlog, piaget/observed, observed/hischild, piaget/studied, studied/cogdev,
  comprev/models, models/humproc, comprev/brought, brought/vonneu, vonneu/pioneered, pioneered/moddig, vonneu/applied, applied/operator,
  comprev/contrib, contrib/thinking, socio/defSoc, defSoc/relat,
  vygotsky/wroteV, wroteV/thought, vygotsky/originated, originated/sociapp, vygotsky/emphV, emphV/scaff,
  cogneuro/studiesCN, studiesCN/changes, biopsy/studiesB, studiesB/brain, biopsy/defBio, defBio/attrib,
  evol/mainprop, mainprop/buss, buss/emphB, emphB/genetic, evol/defEvo, defEvo/charact, evol/aspect, aspect/behdev, aspect/humanimal}
  \draw[ar] (\a) -- (\b);
\end{scope}
\end{tikzpicture}
\end{document}
